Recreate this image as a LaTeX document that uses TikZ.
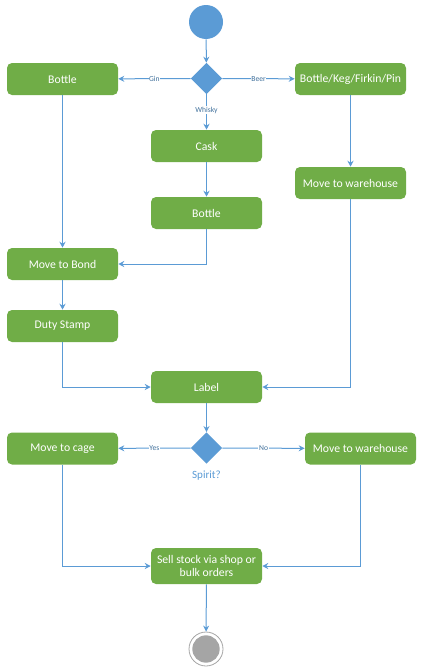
\documentclass[tikz,border=0pt]{standalone}
\usepackage{fontspec}
\setmainfont{Carlito}
\usetikzlibrary{shapes.geometric}
\usetikzlibrary{arrows.meta}
\usepackage{xcolor}
\definecolor{actgreen}{HTML}{70AD47}
\definecolor{flowblue}{HTML}{5B9BD5}
\definecolor{labblue}{HTML}{41719C}
\definecolor{endgray}{HTML}{A5A5A5}

\begin{document}
\begin{tikzpicture}[x=0.75pt, y=-0.75pt]
        % ================= styles =================
        \tikzset{
            % activity box
            act/.style={rectangle, rounded corners=3.75pt, fill=actgreen, text=white, font=\fontsize{8.8}{9.8}\selectfont,
                minimum width=83.25pt, minimum height=24pt, inner sep=1pt, align=center},
            % decision
            decide/.style={diamond, fill=flowblue, minimum width=23.5pt, minimum height=23.5pt, inner sep=0pt},
            % flow
            flow/.style={draw=flowblue, line width=0.75pt, -{Stealth[length=4.5pt, width=4.5pt]}},
            % guard text
            guard/.style={fill=white, inner sep=0.5pt, text=labblue, font=\fontsize{5.7}{6}\selectfont}
        }
        \useasboundingbox (0,0) rectangle (424,671);

        % ================= nodes =================
        \node[circle, fill=flowblue, minimum size=25.5pt, inner sep=0pt] (start) at (206,22) {};
        \node[decide] (d1) at (206.5,78.5) {};
        \node[act] (bottleG) at (62.5,79) {Bottle};
        \node[act] (casks) at (350.5,79) {Bottle/Keg/Firkin/Pin};
        \node[act] (cask) at (206.5,146) {Cask};
        \node[act] (bottleW) at (206.5,213) {Bottle};
        \node[act] (wareA) at (350.5,183) {Move to warehouse};
        \node[act] (bond) at (62.5,264) {Move to Bond};
        \node[act] (stamp) at (62.5,326) {Duty Stamp};
        \node[act] (label) at (206.5,387) {Label};
        \node[decide] (d2) at (206.5,448) {};
        \node[text=flowblue, font=\fontsize{8.3}{9}\selectfont] (spirit) at (206.5,476) {Spirit?};
        \node[act] (cage) at (62.5,448.5) {Move to cage};
        \node[act] (wareB) at (360.5,448.5) {Move to warehouse};
        \node[act, minimum height=27pt] (sell) at (206.5,566) {Sell stock via shop or\\bulk orders};
        \node[circle, draw=endgray, line width=0.6pt, fill=white, minimum size=25.5pt, inner sep=0pt] (stop) at (206,649) {};
        \node[circle, fill=endgray, minimum size=20.5pt, inner sep=0pt] at (stop) {};

        % ================= flows =================
        \draw[flow] (start) -- (d1);
        \draw[flow] (d1) -- node[guard] {Gin} (bottleG);
        \draw[flow] (d1) -- node[guard] {Beer} (casks);
        \draw[flow] (d1) -- node[guard, pos=0.45] {Whisky} (cask);
        \draw[flow] (cask) -- (bottleW);
        \draw[flow] (bottleW.south) |- (bond.east);
        \draw[flow] (bottleG) -- (bond);
        \draw[flow] (bond) -- (stamp);
        \draw[flow] (stamp.south) |- (label.west);
        \draw[flow] (casks) -- (wareA);
        \draw[flow] (wareA.south) |- (label.east);
        \draw[flow] (label) -- (d2);
        \draw[flow] (d2) -- node[guard] {Yes} (cage);
        \draw[flow] (d2) -- node[guard] {No} (wareB);
        \draw[flow] (cage.south) |- (sell.west);
        \draw[flow] (wareB.south) |- (sell.east);
        \draw[flow] (sell) -- (stop);

    \end{tikzpicture}
\end{document}
